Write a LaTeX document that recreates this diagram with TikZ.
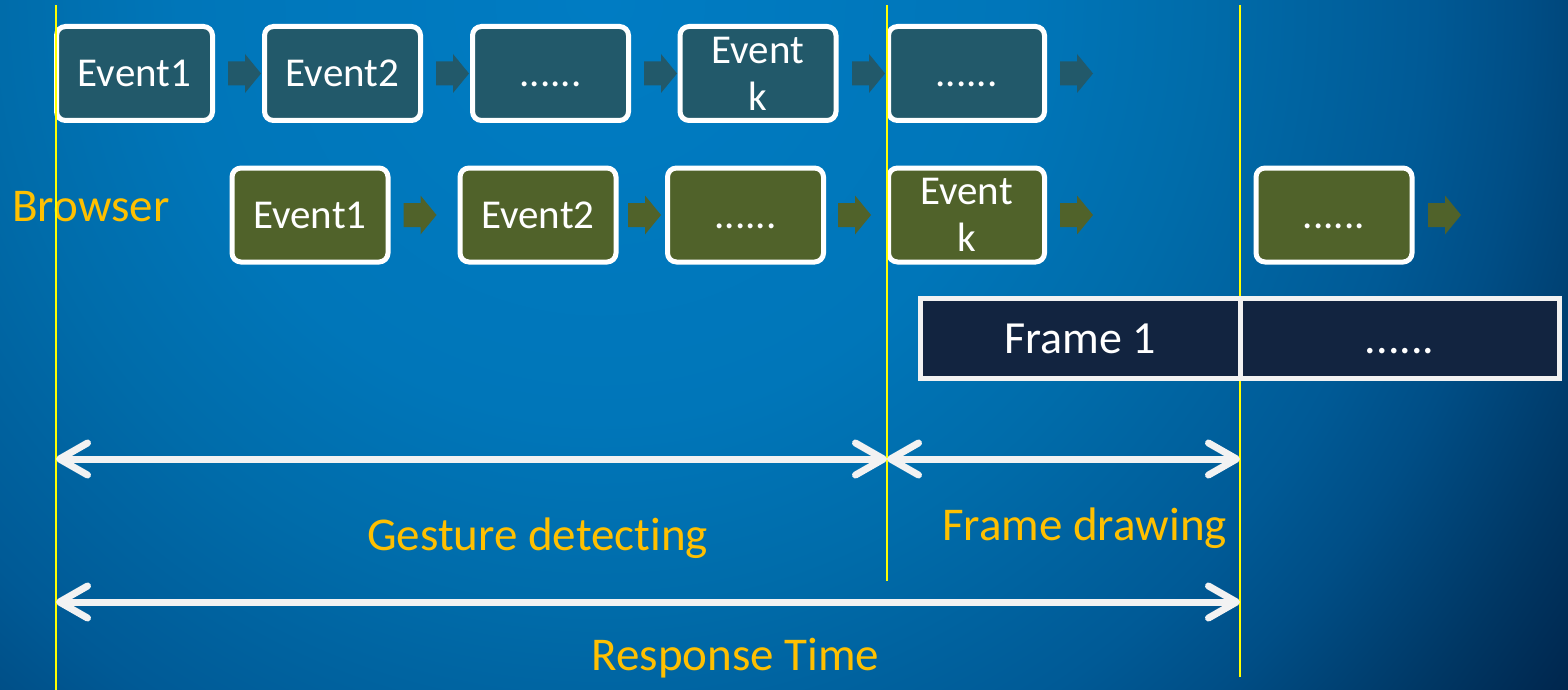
\documentclass[tikz,border=0pt]{standalone}
\usepackage{fontspec}
\setmainfont{Carlito}[Ligatures=NoCommon]
\usetikzlibrary{arrows.meta}

% palette
\definecolor{bgA}{RGB}{0,124,195}
\definecolor{bgB}{RGB}{0,118,185}
\definecolor{bgC}{RGB}{0,108,170}
\definecolor{bgD}{RGB}{0,90,150}
\definecolor{bgE}{RGB}{0,78,134}
\definecolor{bgF}{RGB}{0,55,100}
\definecolor{bgG}{RGB}{0,40,80}
\definecolor{bgH}{RGB}{0,32,68}
\definecolor{rowA}{RGB}{34,89,106}
\definecolor{rowB}{RGB}{80,98,42}
\definecolor{framefill}{RGB}{18,36,64}
\definecolor{labelgold}{RGB}{255,192,0}
\definecolor{guideyellow}{RGB}{255,255,0}
\definecolor{dimwhite}{RGB}{242,242,242}

% backdrop: light near the top middle, dark towards the lower right corner
\pgfdeclareradialshading{backdrop}{\pgfpoint{0bp}{0bp}}{%
  color(0bp)=(bgA); color(8.4bp)=(bgB); color(12bp)=(bgC); color(16.5bp)=(bgD);
  color(18.5bp)=(bgE); color(21.5bp)=(bgF); color(23.5bp)=(bgG); color(25bp)=(bgH);
  color(50bp)=(bgH)}

\begin{document}
\begin{tikzpicture}[x=1pt,y=-1pt,
  evbox/.style={draw=white, line width=5pt, rounded corners=9pt,
    minimum width=156pt, minimum height=94pt, inner sep=0pt,
    text=white, font=\fontsize{41}{47}\selectfont, align=center},
  oneline/.style={text height=26pt, text depth=0pt},
  framebox/.style={draw=dimwhite, line width=5pt, fill=framefill,
    minimum width=319.5pt, minimum height=80pt, inner sep=0pt,
    text=white, font=\fontsize{46}{50}\selectfont,
    text height=29pt, text depth=0pt},
  guide/.style={draw=guideyellow, line width=2pt},
  dim/.style={draw=dimwhite, line width=7pt,
    {Straight Barb[length=28pt,width=32pt,round]}-{Straight Barb[length=28pt,width=32pt,round]}},
  lbl/.style={text=labelgold, font=\fontsize{47}{50}\selectfont, inner sep=0pt},
  blockarr/.pic={\fill (-16.5,-12) -- (0.5,-12) -- (0.5,-19.5) -- (16.5,0)
     -- (0.5,19.5) -- (0.5,12) -- (-16.5,12) -- cycle;}
]
\useasboundingbox (0,0) rectangle (1568,690);

% background
\begin{scope}
  \clip (0,0) rectangle (1568,690);
  \shade[shading=backdrop] (-650,-1250) rectangle (1850,1250);
\end{scope}

% first event row
\node[evbox, oneline, fill=rowA] (a1) at (134.5,73.5) {Event1};
\node[evbox, oneline, fill=rowA] (a2) at (342.5,73.5) {Event2};
\node[evbox, oneline, fill=rowA] (a3) at (550.5,73.5) {......};
\node[evbox, fill=rowA] (a4) at (758,73.5) {Event\\k};
\node[evbox, oneline, fill=rowA] (a5) at (966.5,73.5) {......};
\foreach \x in {244.5,452.5,660.5,868.5,1076.5}
  \path (\x,73.5) pic[color=rowA] {blockarr};

% second event row
\node[lbl, anchor=base west] (browser) at (12,221) {Browser};
\node[evbox, oneline, fill=rowB] (b1) at (310,215) {Event1};
\node[evbox, oneline, fill=rowB] (b2) at (538,215) {Event2};
\node[evbox, oneline, fill=rowB] (b3) at (745.5,215) {......};
\node[evbox, fill=rowB] (b4) at (966.5,215) {Event\\k};
\node[evbox, oneline, fill=rowB] (b5) at (1334,215) {......};
\foreach \x in {420,644.5,854.5,1076.5,1444.5}
  \path (\x,215) pic[color=rowB] {blockarr};

% time markers
\coordinate (g1top) at (56,5);    \coordinate (g1bot) at (56,690);
\coordinate (g2top) at (887,5);   \coordinate (g2bot) at (887,581);
\coordinate (g3top) at (1240,5);  \coordinate (g3bot) at (1240,677);
\draw[guide] (g1top) -- (g1bot);
\draw[guide] (g2top) -- (g2bot);
\draw[guide] (g3top) -- (g3bot);

% frames
\node[framebox] (f1) at (1080.25,338.5) {Frame 1};
\node[framebox] (f2) at (1399.75,338.5) {......};

% spans
\coordinate (d1a) at (56,459);
\coordinate (d1b) at (887,459);
\coordinate (d1c) at (1240,459);
\coordinate (d2a) at (56,602);
\coordinate (d2b) at (1240,602);
\draw[dim] (d1a) -- (d1b);
\draw[dim] (d1b) -- (d1c);
\draw[dim] (d2a) -- (d2b);

\node[lbl, anchor=base] (gesture) at (537.5,550) {Gesture detecting};
\node[lbl, anchor=base] (drawing) at (1084.5,540) {Frame drawing};
\node[lbl, anchor=base] (response) at (735.5,670) {Response Time};
\end{tikzpicture}
\end{document}
